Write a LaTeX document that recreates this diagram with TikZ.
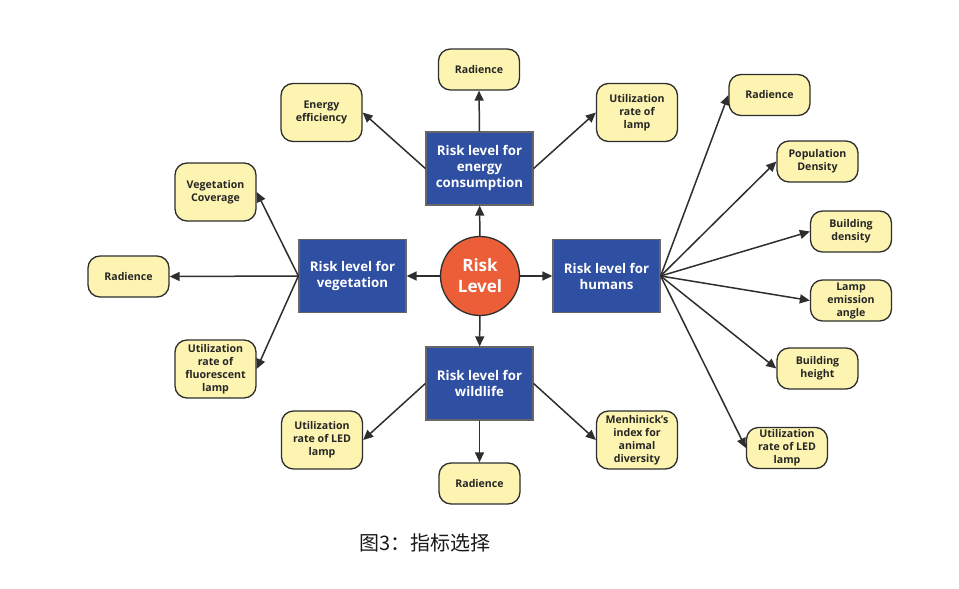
\documentclass[tikz,border=0pt]{standalone}
\usepackage{fontspec}
\setmainfont{Open Sans}
\newfontfamily\cjk{Noto Sans CJK SC}
\usetikzlibrary{arrows.meta}
\definecolor{yelfill}{HTML}{FCF4B0}
\definecolor{bluefill}{HTML}{2F4FA2}
\definecolor{orangefill}{HTML}{EC5E38}
\definecolor{edgegray}{HTML}{2E2E2E}
\tikzset{
  yel/.style={draw=edgegray, fill=yelfill, rounded corners=12pt, line width=1.3pt,
    minimum width=81pt, minimum height=41pt, align=center, inner sep=1pt,
    font=\bfseries\fontsize{10.6}{13}\selectfont, text=black!85},
  yeltall/.style={yel, minimum height=58pt},
  blu/.style={draw=black!60, fill=bluefill, line width=1.3pt, text=white,
    minimum width=107pt, minimum height=73pt, align=center, inner sep=1pt,
    font=\bfseries\fontsize{13.3}{16}\selectfont},
  riskc/.style={circle, draw=edgegray, fill=orangefill, line width=1.3pt, text=white,
    minimum size=79pt, align=center, inner sep=0pt,
    font=\bfseries\fontsize{17}{21}\selectfont},
  arr/.style={draw=edgegray, line width=1.5pt, -{Triangle[length=10pt,width=9pt]}},
}
\begin{document}
\begin{tikzpicture}[x=1pt,y=-1pt]
\useasboundingbox (0,0) rectangle (959,589);
% centre
\node[riskc] (risk) at (480,276) {Risk\\Level};
% boxes
\node[blu] (en) at (479.5,168.5) {Risk level for\\energy\\consumption};
\node[blu] (veg) at (352.5,276) {Risk level for\\vegetation};
\node[blu] (hum) at (606.5,276) {Risk level for\\humans};
\node[blu] (wild) at (479.5,383.5) {Risk level for\\wildlife};
% energy leaves
\node[yel] (radA) at (479,69.5) {Radience};
\node[yeltall] (ee) at (321.5,112.5) {Energy\\efficiency};
\node[yeltall] (ul) at (637,112.5) {Utilization\\rate of\\lamp};
% vegetation leaves
\node[yeltall] (vc) at (215.5,192) {Vegetation\\Coverage};
\node[yel] (radB) at (128.5,276.5) {Radience};
\node[yeltall] (fl) at (215.5,369) {Utilization\\rate of\\fluorescent\\lamp};
% wildlife leaves
\node[yeltall] (ledA) at (322,440) {Utilization\\rate of LED\\lamp};
\node[yel] (radC) at (479.5,483.5) {Radience};
\node[yeltall] (men) at (637,440) {Menhinick's\\index for\\animal\\diversity};
% humans leaves
\node[yel] (radD) at (769.5,95) {Radience};
\node[yel] (pd) at (817.5,161.5) {Population\\Density};
\node[yel] (bd) at (851,231.5) {Building\\density};
\node[yel] (lea) at (851,300.5) {Lamp\\emission\\angle};
\node[yel] (bh) at (817.5,368.5) {Building\\height};
\node[yel] (ledB) at (787,448) {Utilization\\rate of LED\\lamp};
% centre connectors
\draw[arr] (risk) -- (en);
\draw[arr] (risk) -- (veg);
\draw[arr] (risk) -- (hum);
\draw[arr] (risk) -- (wild);
% energy
\draw[arr] (en.north) -- (radA.south);
\draw[arr] (en.west) -- (ee.east);
\draw[arr] (en.east) -- (ul.west);
% vegetation
\draw[arr] (veg.west) -- (vc.east);
\draw[arr] (veg.west) -- (radB.east);
\draw[arr] (veg.west) -- (fl.east);
% wildlife
\draw[arr] (wild.west) -- (ledA.east);
\draw[arr] (wild.south) -- (radC.north);
\draw[arr] (wild.east) -- (men.west);
% humans
\foreach \t in {radD,pd,bd,lea,bh,ledB}{
  \draw[arr] (hum.east) -- (\t.west);
}
% caption
\node[font=\cjk\fontsize{20}{24}\selectfont, text=black!90] (cap) at (425,543) {图3：指标选择};
\end{tikzpicture}
\end{document}
